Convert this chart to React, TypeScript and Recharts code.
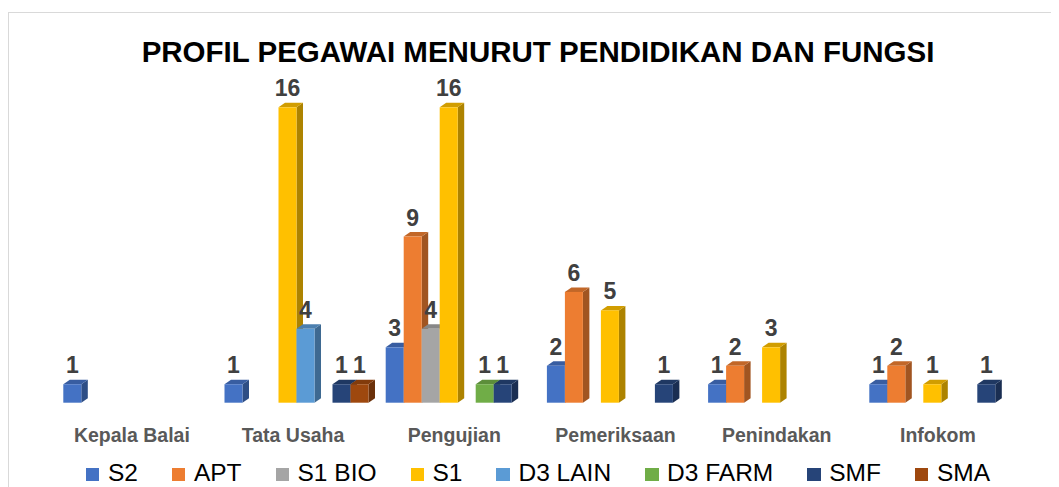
import { BarChart, Bar, XAxis, YAxis, LabelList } from "recharts";

const CATEGORIES = ["Kepala Balai", "Tata Usaha", "Pengujian", "Pemeriksaan", "Penindakan", "Infokom"];

// null = no staff in that group
const S2 = [1, 1, 3, 2, 1, 1];
const APT = [null, null, 9, 6, 2, 2];
const S1_BIO = [null, null, 4, null, null, null];
const S1 = [null, 16, 16, 5, 3, 1];
const D3_LAIN = [null, 4, null, null, null, null];
const D3_FARM = [null, null, 1, null, null, null];
const SMF = [null, 1, 1, 1, null, 1];
const SMA = [null, 1, null, null, null, null];

const SERIES = [
  { key: "S2", values: S2, color: "#4472C4" },
  { key: "APT", values: APT, color: "#ED7D31" },
  { key: "S1 BIO", values: S1_BIO, color: "#A5A5A5" },
  { key: "S1", values: S1, color: "#FFC000" },
  { key: "D3 LAIN", values: D3_LAIN, color: "#5B9BD5" },
  { key: "D3 FARM", values: D3_FARM, color: "#70AD47" },
  { key: "SMF", values: SMF, color: "#264478" },
  { key: "SMA", values: SMA, color: "#9E480E" },
];

const data = CATEGORIES.map((name, i) => {
  const row: { [k: string]: any } = { name };
  SERIES.forEach((s) => {
    row[s.key] = s.values[i];
  });
  return row;
});

const FONT = "'Liberation Sans', Arial, sans-serif";

// darken a hex colour by factor f
function shade(hex: string, f: number) {
  const n = parseInt(hex.slice(1), 16);
  const r = Math.round(((n >> 16) & 255) * f);
  const g = Math.round(((n >> 8) & 255) * f);
  const b = Math.round((n & 255) * f);
  return `rgb(${r},${g},${b})`;
}

// Excel-like 3D column: front face + side + top
const Bar3D = (props: any) => {
  const { x, y, width, height, fill } = props;
  if (!height || height <= 0) return null;
  const d = 6.5;
  const dy = 4.5;
  return (
    <g>
      <polygon
        points={`${x + width},${y} ${x + width + d},${y - dy} ${x + width + d},${y + height - dy} ${x + width},${y + height}`}
        fill={shade(fill, 0.68)}
      />
      <polygon
        points={`${x},${y} ${x + d},${y - dy} ${x + width + d},${y - dy} ${x + width},${y}`}
        fill={shade(fill, 0.82)}
      />
      <rect x={x} y={y} width={width} height={height} fill={fill} />
    </g>
  );
};

export default function App() {
  return (
    <div style={{ position: "relative", width: 1051, height: 479, overflow: "hidden", fontFamily: FONT }}>
      <div
        style={{
          position: "absolute",
          left: 0,
          top: 4,
          width: 1060,
          height: 500,
          borderTop: "1px solid #d9d9d9",
          borderLeft: "1px solid #d9d9d9",
        }}
      >
        <BarChart
          width={1058}
          height={476}
          data={data}
          margin={{ top: 57.4, right: 43.5, left: 47.3, bottom: 46.3 }}
          barGap={0}
          barCategoryGap={7}
        >
          <XAxis
            dataKey="name"
            axisLine={false}
            tickLine={false}
            tickSize={0}
            tickMargin={25}
            height={40}
            interval={0}
            tick={{ fill: "#595959", fontSize: 19.5, fontWeight: "bold", fontFamily: FONT, dx: -5 }}
          />
          <YAxis hide domain={[0, 18]} />
          {SERIES.map((s) => (
            <Bar key={s.key} dataKey={s.key} fill={s.color} shape={<Bar3D />} isAnimationActive={false}>
              <LabelList
                dataKey={s.key}
                position="top"
                offset={11}
                fill="#404040"
                fontSize={23}
                fontWeight="bold"
                fontFamily={FONT}
              />
            </Bar>
          ))}
        </BarChart>
      </div>

      {/* Title */}
      <div
        style={{
          position: "absolute",
          left: 1,
          top: 29.2,
          width: 1058,
          textAlign: "center",
          fontSize: 29.5,
          lineHeight: "29px",
          fontWeight: "bold",
          color: "#000",
        }}
      >
        PROFIL PEGAWAI MENURUT PENDIDIKAN DAN FUNGSI
      </div>

      {/* Legend */}
      <div
        style={{
          position: "absolute",
          left: 1,
          top: 452.8,
          width: 1058,
          height: 24,
          display: "flex",
          justifyContent: "center",
          alignItems: "center",
          gap: 34,
          lineHeight: "24px",
          fontSize: 24.5,
          color: "#000",
        }}
      >
        {SERIES.map((s) => (
          <div key={s.key} style={{ display: "flex", alignItems: "center", whiteSpace: "nowrap" }}>
            <div style={{ width: 13.5, height: 13.5, background: s.color, marginRight: 8.5, marginTop: 3 }} />
            <span>{s.key}</span>
          </div>
        ))}
      </div>
    </div>
  );
}
